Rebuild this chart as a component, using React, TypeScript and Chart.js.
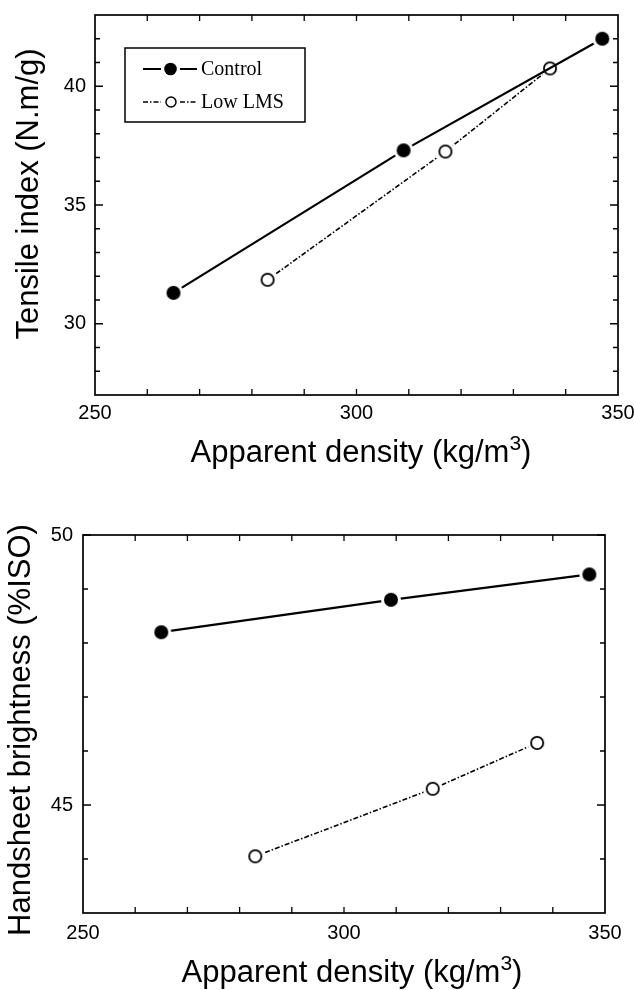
import React, { useEffect, useRef } from "react";
import { Chart, registerables } from "chart.js";

Chart.register(...registerables);

// ---------------- data ----------------
const seriesNames = ["Control", "Low LMS"];
const densityControl = [265, 309, 347];
const densityLowLMS = [283, 317, 337];
const tensileControl = [31.3, 37.3, 42.0];
const tensileLowLMS = [31.85, 37.25, 40.75];
const brightnessControl = [48.2, 48.8, 49.27];
const brightnessLowLMS = [44.05, 45.3, 46.15];

const xTickLabels = [250, 300, 350];
const xMinorTicks = [260, 270, 280, 290, 300, 310, 320, 330, 340];
const tensileTickLabels = [30, 35, 40];
const tensileMinorTicks = [28, 29, 31, 32, 33, 34, 36, 37, 38, 39, 41, 42];
const brightnessTickLabels = [45, 50];
const brightnessMinorTicks = [44, 46, 47, 48, 49];

// x title: "Apparent density (kg/m³)" drawn with a real raised superscript
const xTitleParts = ["Apparent density (kg/m", "3", ")"];
const tensileTitle = "Tensile index (N.m/g)";
const brightnessTitle = "Handsheet brightness (%ISO)";

const SANS = "'Liberation Sans', Arial, Helvetica, sans-serif";
const SERIF = "'Liberation Serif', 'Times New Roman', serif";

function makeMarker(filled: boolean, r: number, gap: number) {
  const size = Math.ceil((r + gap) * 2 + 2);
  const c = document.createElement("canvas");
  c.width = size;
  c.height = size;
  const ctx = c.getContext("2d")!;
  const cx = size / 2;
  if (gap > 0) {
    ctx.fillStyle = "#fff";
    ctx.beginPath();
    ctx.arc(cx, cx, r + gap, 0, Math.PI * 2);
    ctx.fill();
  }
  ctx.beginPath();
  if (filled) {
    ctx.arc(cx, cx, r, 0, Math.PI * 2);
    ctx.fillStyle = "#000";
    ctx.fill();
  } else {
    ctx.arc(cx, cx, r - 0.9, 0, Math.PI * 2);
    ctx.fillStyle = "#fff";
    ctx.fill();
    ctx.lineWidth = 1.8;
    ctx.strokeStyle = "#000";
    ctx.stroke();
  }
  return c;
}

const frameTicksPlugin = {
  id: "frameTicks",
  afterDraw(chart: any, _args: any, opts: any) {
    const { ctx, chartArea } = chart;
    const { left, right, top, bottom } = chartArea;
    const xs = chart.scales.x;
    const ys = chart.scales.y;
    ctx.save();
    ctx.strokeStyle = "#000";
    ctx.lineWidth = 1.7;
    ctx.strokeRect(left, top, right - left, bottom - top);
    ctx.lineWidth = 1.3;
    const drawX = (v: number, len: number) => {
      const px = xs.getPixelForValue(v);
      ctx.beginPath();
      ctx.moveTo(px, bottom);
      ctx.lineTo(px, bottom - len);
      ctx.moveTo(px, top);
      ctx.lineTo(px, top + len);
      ctx.stroke();
    };
    const drawY = (v: number, len: number) => {
      const py = ys.getPixelForValue(v);
      ctx.beginPath();
      ctx.moveTo(left, py);
      ctx.lineTo(left + len, py);
      ctx.moveTo(right, py);
      ctx.lineTo(right - len, py);
      ctx.stroke();
    };
    opts.xMinor.forEach((v: number) => drawX(v, 6));
    opts.yMajor.forEach((v: number) => drawY(v, 8));
    opts.yMinor.forEach((v: number) => drawY(v, 5));
    ctx.restore();
  },
};

const titlesPlugin = {
  id: "titles",
  afterDraw(chart: any, _args: any, opts: any) {
    const { ctx } = chart;
    ctx.save();
    ctx.fillStyle = "#000";
    ctx.textBaseline = "alphabetic";
    ctx.textAlign = "left";
    const mainFont = `31px ${SANS}`;
    const supFont = `21px ${SANS}`;
    ctx.font = mainFont;
    const w0 = ctx.measureText(xTitleParts[0]).width;
    const w2 = ctx.measureText(xTitleParts[2]).width;
    ctx.font = supFont;
    const w1 = ctx.measureText(xTitleParts[1]).width;
    const total = w0 + w1 + w2;
    let x = opts.xX - total / 2;
    const base = opts.xBase;
    ctx.font = mainFont;
    ctx.fillText(xTitleParts[0], x, base);
    x += w0;
    ctx.font = supFont;
    ctx.fillText(xTitleParts[1], x, base - 12);
    x += w1;
    ctx.font = mainFont;
    ctx.fillText(xTitleParts[2], x, base);

    ctx.textAlign = "center";
    ctx.textBaseline = "middle";
    ctx.translate(opts.yX, opts.yY);
    ctx.rotate(-Math.PI / 2);
    ctx.fillText(opts.yText, 0, 0);
    ctx.restore();
  },
};

const legendPlugin = {
  id: "boxLegend",
  afterDraw(chart: any, _args: any, opts: any) {
    if (!opts || !opts.show) return;
    const { ctx } = chart;
    const ds = chart.data.datasets;
    ctx.save();
    ctx.fillStyle = "#fff";
    ctx.fillRect(125, 48, 180, 74);
    ctx.strokeStyle = "#000";
    ctx.lineWidth = 1.5;
    ctx.strokeRect(125, 48, 180, 74);
    const rows = [69, 102];
    ds.forEach((d: any, i: number) => {
      const y = rows[i];
      ctx.strokeStyle = "#000";
      ctx.lineWidth = d.borderWidth;
      ctx.setLineDash(d.borderDash || []);
      ctx.beginPath();
      ctx.moveTo(143, y);
      ctx.lineTo(161, y);
      ctx.moveTo(180, y);
      ctx.lineTo(197, y);
      ctx.stroke();
      ctx.setLineDash([]);
      ctx.beginPath();
      if (i === 0) {
        ctx.arc(170.5, y, 6.3, 0, Math.PI * 2);
        ctx.fillStyle = "#000";
        ctx.fill();
      } else {
        ctx.arc(171, y, 5, 0, Math.PI * 2);
        ctx.lineWidth = 1.5;
        ctx.stroke();
      }
      ctx.fillStyle = "#000";
      ctx.font = `20px ${SERIF}`;
      ctx.textAlign = "left";
      ctx.textBaseline = "middle";
      ctx.fillText(d.label, 201, y + 1);
    });
    ctx.restore();
  },
};

function toPoints(xs: number[], ys: number[]) {
  return xs.map((x, i) => ({ x, y: ys[i] }));
}

function zeroPad(s: any) {
  s.paddingTop = 0;
  s.paddingBottom = 0;
  s.paddingLeft = 0;
  s.paddingRight = 0;
}

function buildConfig(p: {
  ctrl: number[];
  low: number[];
  yMin: number;
  yMax: number;
  yLabels: number[];
  yMinor: number[];
  yWidth: number;
  xHeight: number;
  padTop: number;
  padRight: number;
  xPad: number;
  yPad: number;
  titles: any;
  legend: boolean;
}) {
  const filled = makeMarker(true, 7, 3);
  const open = makeMarker(false, 7, 3);
  return {
    type: "scatter" as const,
    data: {
      datasets: [
        {
          label: seriesNames[0],
          data: toPoints(densityControl, p.ctrl),
          showLine: true,
          borderColor: "#000",
          borderWidth: 2.2,
          pointStyle: filled,
          pointRadius: 8,
          pointHoverRadius: 8,
        },
        {
          label: seriesNames[1],
          data: toPoints(densityLowLMS, p.low),
          showLine: true,
          borderColor: "#000",
          borderWidth: 1.6,
          borderDash: [5, 2, 1.5, 2],
          pointStyle: open,
          pointRadius: 8,
          pointHoverRadius: 8,
        },
      ],
    },
    options: {
      responsive: false,
      animation: false as const,
      devicePixelRatio: 1,
      events: [],
      layout: { padding: { top: p.padTop, right: p.padRight, left: 0, bottom: 0 } },
      plugins: {
        legend: { display: false },
        tooltip: { enabled: false },
        frameTicks: { xMinor: xMinorTicks, yMajor: p.yLabels, yMinor: p.yMinor },
        titles: p.titles,
        boxLegend: { show: p.legend },
      },
      scales: {
        x: {
          type: "linear" as const,
          min: 250,
          max: 350,
          grid: { display: false, drawTicks: false },
          border: { display: false },
          ticks: {
            color: "#000",
            font: { family: SANS, size: 20 },
            padding: p.xPad,
            maxRotation: 0,
          },
          afterBuildTicks: (s: any) => {
            s.ticks = xTickLabels.map((value) => ({ value }));
          },
          afterFit: (s: any) => {
            s.height = p.xHeight;
            zeroPad(s);
          },
        },
        y: {
          type: "linear" as const,
          min: p.yMin,
          max: p.yMax,
          grid: { display: false, drawTicks: false },
          border: { display: false },
          ticks: {
            color: "#000",
            font: { family: SANS, size: 20 },
            padding: p.yPad,
          },
          afterBuildTicks: (s: any) => {
            s.ticks = p.yLabels.map((value) => ({ value }));
          },
          afterFit: (s: any) => {
            s.width = p.yWidth;
            zeroPad(s);
          },
        },
      },
    },
    plugins: [frameTicksPlugin, titlesPlugin, legendPlugin],
  };
}

function ChartCanvas({ top, height, make }: { top: number; height: number; make: () => any }) {
  const ref = useRef<HTMLCanvasElement | null>(null);
  useEffect(() => {
    if (!ref.current) return;
    const chart = new Chart(ref.current, make());
    return () => chart.destroy();
  }, []);
  return (
    <canvas
      ref={ref}
      width={634}
      height={height}
      style={{ position: "absolute", left: 0, top, width: 634, height, display: "block" }}
    />
  );
}

export default function App() {
  return (
    <div style={{ position: "absolute", left: 0, top: 0, width: 634, height: 990, background: "#fff" }}>
      <ChartCanvas
        top={0}
        height={480}
        make={() =>
          buildConfig({
            ctrl: tensileControl,
            low: tensileLowLMS,
            yMin: 27,
            yMax: 43,
            yLabels: tensileTickLabels,
            yMinor: tensileMinorTicks,
            yWidth: 95,
            xHeight: 85,
            padTop: 15,
            padRight: 16,
            xPad: 6,
            yPad: 9,
            titles: { xX: 361, xBase: 462, yText: tensileTitle, yX: 29.5, yY: 194 },
            legend: true,
          })
        }
      />
      <ChartCanvas
        top={480}
        height={510}
        make={() =>
          buildConfig({
            ctrl: brightnessControl,
            low: brightnessLowLMS,
            yMin: 43,
            yMax: 50,
            yLabels: brightnessTickLabels,
            yMinor: brightnessMinorTicks,
            yWidth: 83,
            xHeight: 77,
            padTop: 55,
            padRight: 29,
            xPad: 8,
            yPad: 10,
            titles: { xX: 352, xBase: 502, yText: brightnessTitle, yX: 21.5, yY: 250 },
            legend: false,
          })
        }
      />
    </div>
  );
}
